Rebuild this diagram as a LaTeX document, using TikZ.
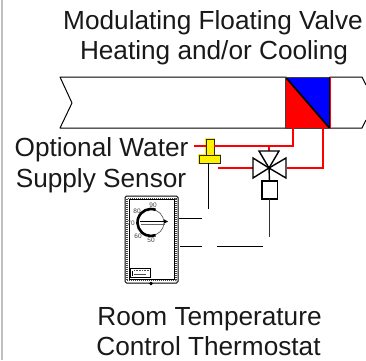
\documentclass[tikz,border=0pt]{standalone}
\usepackage{fontspec}
\setmainfont{Liberation Sans}
\begin{document}
\begin{tikzpicture}[x=1pt,y=-1pt,
  lbl/.style={inner sep=0pt,anchor=base,font=\fontsize{26.2}{30}\selectfont,text=black!90},
  dialnum/.style={inner sep=0pt,font=\fontsize{6.5}{7}\selectfont,text=black!75},
  duct/.style={draw=black,line width=1pt,line join=round},
  redw/.style={draw=red,line width=1.5pt},
  blk/.style={draw=black,line width=1pt},
  valvepart/.style={draw=black,fill=white,line width=1.4pt,line join=miter},
  sensorpart/.style={draw=yellow,fill=yellow,line width=2pt}]
\useasboundingbox (0,0) rectangle (366,360);
\fill[white] (0,0) rectangle (366,360);
\fill[black!25] (1,0) rectangle (2.6,360);
% labels
\node[lbl] (t1) at (213,29) {Modulating Floating Valve};
\node[lbl] (t2) at (214,59.5) {Heating and/or Cooling};
\node[lbl] (s1) at (101.5,156.5) {Optional Water};
\node[lbl] (s2) at (101,187) {Supply Sensor};
\node[lbl] (r1) at (209.5,325) {Room Temperature};
\node[lbl] (r2) at (208.5,355) {Control Thermostat};
% duct
\begin{scope}
\clip (0,0) rectangle (366,360);
\draw[duct] (285.5,77) -- (60,77) -- (72,103) -- (60,128) -- (285.5,128);
\draw[duct] (329.5,77) -- (362,77) -- (366,85);
\draw[duct] (329.5,128) -- (362,128) -- (366,120);
\end{scope}
% coil
\coordinate (cTL) at (285.5,77);
\coordinate (cTR) at (329.5,77);
\coordinate (cBL) at (285.5,128);
\coordinate (cBR) at (329.5,128);
\fill[red] (cTL) -- (cBR) -- (cBL) -- cycle;
\fill[blue] (cTL) -- (cTR) -- (cBR) -- cycle;
\draw[black,line width=1.7pt] (cTL) -- (cBR);
\draw[black!75,line width=1pt] (cBR) -- (cBL) -- (cTL) -- (cTR);
\draw[black,line width=1pt] (cTR) -- (cBR);
\draw[red,line width=.6pt] (330.2,77) -- (330.2,128.5);
% coordinates for wiring
\coordinate (wA) at (293,128);
\coordinate (wB) at (293,146);
\coordinate (wC) at (194,146);
\coordinate (wD) at (323,128);
\coordinate (wE) at (323,168);
\coordinate (vC) at (269,168);
\coordinate (vL) at (253,168);
\coordinate (vR) at (287,168);
\coordinate (wF) at (218,168);
\coordinate (vT) at (269,151);
\coordinate (vTw) at (269,146);
% sensor
\draw[sensorpart] (206,139) rectangle (214,155);
\draw[sensorpart] (199,154.5) rectangle (220,163);
\draw[black!85,line width=.9pt] (206,155) -- (206,139) -- (214,139) -- (214,155);
\draw[black!85,line width=.9pt] (199,155) rectangle (220,163);
\coordinate (sB) at (208.5,163);
\coordinate (sE) at (208.5,209);
\draw[blk] (sB) -- (sE);
% red wires
\draw[redw] (wC) -- (206,146);
\draw[redw] (214,146) -- (wB) -- (wA);
\draw[redw] (wF) -- (vL);
\draw[redw] (vR) -- (wE) -- (wD);
\draw[red,line width=2.2pt] (vTw) -- (vT);
% valve
\draw[valvepart] (259,151) -- (279,151) -- (vC) -- cycle;
\draw[valvepart] (253,158) -- (253,178) -- (vC) -- cycle;
\draw[valvepart] (286,158) -- (286,178) -- (vC) -- cycle;
\draw[black,line width=1.4pt,fill=white] (262,181) rectangle (277.5,199);
\draw[black,line width=1.4pt] (vC) -- (269.5,181);
\draw[black!80,line width=1pt] (269,199) -- (269,237);
% thermostat
\draw[black,line width=1pt,rounded corners=1.5pt] (125,196) rectangle (178,283);
\draw[black!75,line width=1.4pt,dash pattern=on 1pt off 1pt] (127,198.5) rectangle (176,280.5);
\draw[black,line width=.6pt] (129,199.5) rectangle (174,279);
\node[draw=black,fill=black,circle,inner sep=0pt,minimum size=3pt] (screw) at (151,283.5) {};
% dial
\node[draw=black!70,circle,line width=.6pt,minimum size=26pt,inner sep=0pt] (dial) at (151,222.5) {};
\draw[black,line width=2.6pt] (155.6,209.8) arc[start angle=-70,end angle=-290,radius=13.5];
\draw[black!60,line width=1pt] (141,224.5) -- (165,224.5);
\draw[black,line width=1pt] (140,221.5) -- (166,221.5);
\fill[black] (164,219.3) -- (168,221.5) -- (164,223.7) -- cycle;
\node[dialnum] (d90) at (153,205.5) {90};
\node[dialnum] (d80) at (137,211) {80};
\node[dialnum] (d70) at (131,223) {70};
\node[dialnum] (d60) at (138,236) {60};
\node[dialnum] (d50) at (151,240.5) {50};
% logo
\draw[black,line width=.7pt] (130,268.5) rectangle (150,277);
\draw[black,line width=.7pt] (132.5,270.5) -- (132.5,276);
\draw[black!70,line width=.9pt,dash pattern=on 1pt off .6pt] (134,270.5) -- (149,270.5);
\draw[black!70,line width=.6pt] (134,274) -- (146,274);
% thermostat wires
\coordinate (tR1) at (179,218);
\coordinate (tE1) at (202,218);
\coordinate (tR2) at (180,246);
\coordinate (tE2) at (202,246);
\coordinate (tR3) at (217,246);
\coordinate (tE3) at (263,246);
\draw[blk] (tR1) -- (tE1);
\draw[blk] (tR2) -- (tE2);
\draw[blk] (tR3) -- (tE3);
\end{tikzpicture}
\end{document}
